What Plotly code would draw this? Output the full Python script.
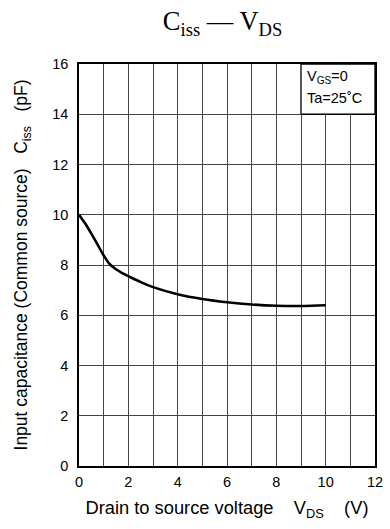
import plotly.graph_objects as go

vds = [0, 0.25, 0.5, 0.75, 1.0, 1.25, 1.5, 1.75, 2, 2.5, 3, 4, 5, 6, 7, 8, 9, 10]
ciss = [10.0, 9.65, 9.25, 8.82, 8.38, 8.03, 7.83, 7.68, 7.56, 7.32, 7.12, 6.84, 6.65, 6.52, 6.43, 6.38, 6.37, 6.40]

x_ticks = [0, 2, 4, 6, 8, 10, 12]
y_ticks = [0, 2, 4, 6, 8, 10, 12, 14, 16]

FONT = "Liberation Sans, Arial, sans-serif"
SP = "&nbsp;"

fig = go.Figure()
fig.add_trace(go.Scatter(x=vds, y=ciss, mode="lines", line=dict(color="black", width=2.6, shape="spline"),
                         showlegend=False, hoverinfo="skip"))

fig.update_layout(
    width=390, height=529,
    margin=dict(l=79, r=15, t=64, b=63),
    paper_bgcolor="white", plot_bgcolor="white",
    font=dict(family=FONT, size=14, color="black"),
    title=dict(text="C<sub>iss</sub> — V<sub>DS</sub>", xref="paper", x=0.485, xanchor="center",
               yref="container", y=0.96, yanchor="middle",
               font=dict(family="Liberation Serif, Times New Roman, serif", size=26.5, color="black")),
    xaxis=dict(range=[0, 12], tickvals=x_ticks, ticks="", showgrid=True, gridcolor="#444", gridwidth=1,
               minor=dict(tickvals=[1, 3, 5, 7, 9, 11], showgrid=True, gridcolor="#444", gridwidth=1),
               showline=True, linecolor="black", linewidth=1.5, mirror=True, zeroline=False,
               tickfont=dict(size=14.5), ticklabelstandoff=2,
               title=dict(text="Drain to source voltage" + SP * 4 + "V<sub>DS</sub>" + SP * 4 + "(V)",
                          standoff=12, font=dict(size=18.3)),
               automargin=False, fixedrange=True),
    yaxis=dict(range=[0, 16], tickvals=y_ticks, ticks="", showgrid=True, gridcolor="#444", gridwidth=1,
               showline=True, linecolor="black", linewidth=1.5, mirror=True, zeroline=False,
               tickfont=dict(size=14.5), ticklabelstandoff=6,
               title=dict(text="Input capacitance (Common source)" + SP * 3 + "C<sub>iss</sub>" + SP * 3 + "(pF)",
                          standoff=20, font=dict(size=17.5)),
               automargin=False, fixedrange=True),
)

fig.add_shape(type="rect", xref="x", yref="y", x0=9, x1=12, y0=14, y1=16,
              fillcolor="white", line=dict(color="black", width=1.3), layer="above")
fig.add_annotation(xref="x", yref="y", x=9.15, y=15.5, text="V<sub>GS</sub>=0", showarrow=False,
                   xanchor="left", yanchor="middle", font=dict(size=14.5))
fig.add_annotation(xref="x", yref="y", x=9.15, y=14.65, text="Ta=25˚C", showarrow=False,
                   xanchor="left", yanchor="middle", font=dict(size=14.5))

fig.write_html("out.html", config={"displayModeBar": False},
               post_script="document.body.style.margin='0';document.body.style.overflow='hidden';")
